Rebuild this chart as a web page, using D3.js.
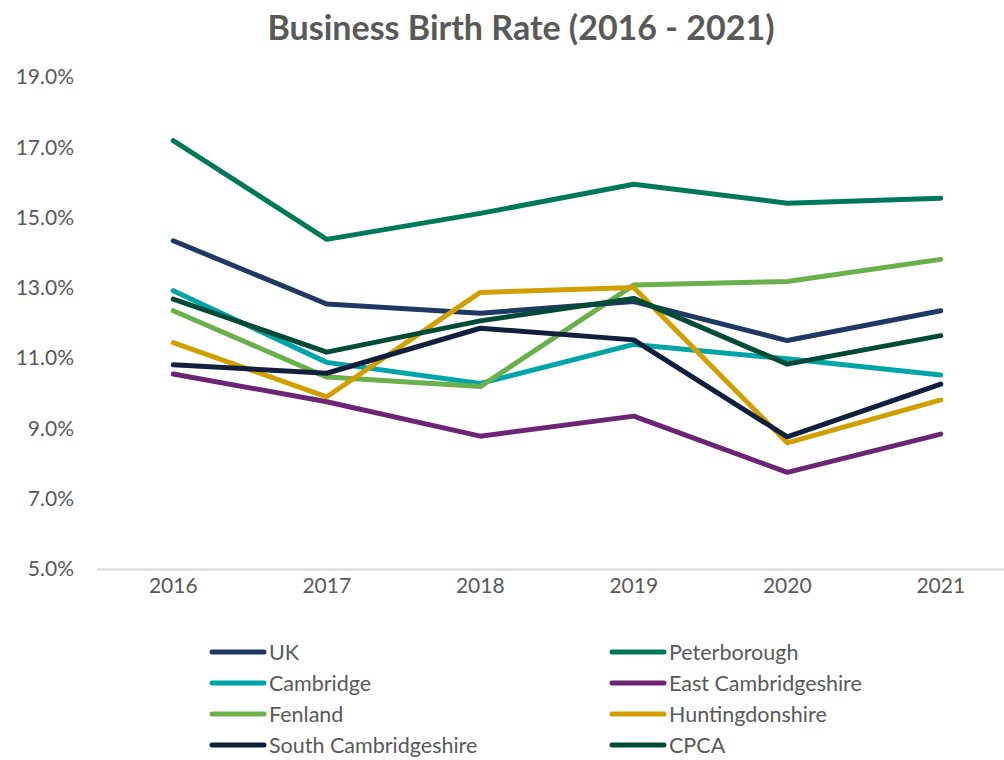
<!DOCTYPE html>
<html>
<head>
<meta charset="utf-8">
<script src="https://cdn.jsdelivr.net/npm/d3@7"></script>
<style>
  html, body { margin: 0; padding: 0; background: #ffffff; }
  svg { display: block; font-family: Lato, "Open Sans", sans-serif; }
</style>
</head>
<body>
<svg id="chart" width="1004" height="760"></svg>
<script>
// Business birth rate (%) by area, 2016–2021
const years = ["2016", "2017", "2018", "2019", "2020", "2021"];
const yTicks = [5, 7, 9, 11, 13, 15, 17, 19];

const uk               = [14.34, 12.54, 12.28, 12.61, 11.50, 12.35];
const peterborough     = [17.19, 14.38, 15.12, 15.95, 15.41, 15.55];
const cambridge        = [12.92, 10.88, 10.28, 11.39, 10.98, 10.52];
const eastCambs        = [10.55,  9.76,  8.78,  9.35,  7.75,  8.84];
const fenland          = [12.35, 10.46, 10.19, 13.08, 13.18, 13.81];
const huntingdonshire  = [11.44,  9.90, 12.87, 13.01,  8.59,  9.81];
const southCambs       = [10.81, 10.57, 11.85, 11.52,  8.76, 10.26];
const cpca             = [12.68, 11.17, 12.06, 12.70, 10.83, 11.64];

const seriesNames  = ["UK", "Peterborough", "Cambridge", "East Cambridgeshire",
                      "Fenland", "Huntingdonshire", "South Cambridgeshire", "CPCA"];
const seriesValues = [uk, peterborough, cambridge, eastCambs,
                      fenland, huntingdonshire, southCambs, cpca];
const seriesColors = ["#1f3864", "#00785a", "#00a5a8", "#6b2574",
                      "#6ab04c", "#d19f00", "#0f1f3c", "#004b37"];

// Drawing order: later series sit on top
const drawOrder = [2, 4, 3, 0, 1, 5, 6, 7];

const svg = d3.select("#chart");
const textColor = "#595959";
const font = "Lato, 'Open Sans', sans-serif";

const x = d3.scaleBand().domain(years).range([96.5, 1017.5]);
const y = d3.scaleLinear().domain([5, 19]).range([569, 77]);

// Title
svg.append("text")
  .attr("x", 521).attr("y", 40)
  .attr("text-anchor", "middle")
  .attr("font-size", 34).attr("font-weight", 700)
  .attr("fill", textColor)
  .text("Business Birth Rate (2016 - 2021)");

// Y axis labels (no axis line)
const yAxis = svg.append("g").attr("transform", "translate(74,0)")
  .call(d3.axisLeft(y).tickValues(yTicks).tickSize(0).tickPadding(0)
    .tickFormat(d => d3.format(".1f")(d) + "%"));
yAxis.select(".domain").remove();
yAxis.selectAll("text").attr("font-size", 21).attr("fill", textColor)
  .attr("font-family", font);

// X axis
const xAxis = svg.append("g").attr("transform", "translate(0,569)")
  .call(d3.axisBottom(x).tickSize(0).tickPadding(0));
xAxis.select(".domain").attr("stroke", "#d9d9d9").attr("stroke-width", 2);
xAxis.selectAll("text").attr("font-size", 21).attr("fill", textColor)
  .attr("dy", "1.15em")
  .attr("font-family", font);

// Lines
const line = d3.line()
  .x((d, i) => x(years[i]) + x.bandwidth() / 2)
  .y(d => y(d));

svg.append("g").selectAll("path")
  .data(drawOrder)
  .join("path")
  .attr("d", k => line(seriesValues[k]))
  .attr("fill", "none")
  .attr("stroke", k => seriesColors[k])
  .attr("stroke-width", 5)
  .attr("stroke-linecap", "round")
  .attr("stroke-linejoin", "round");

// Legend: two columns, four rows
const legend = svg.append("g");
seriesNames.forEach((name, i) => {
  const col = i % 2, row = Math.floor(i / 2);
  const gx = col === 0 ? 212 : 612;
  const gy = 652 + row * 31;
  const g = legend.append("g").attr("transform", `translate(${gx},${gy})`);
  g.append("line")
    .attr("x1", 0).attr("x2", 52).attr("y1", 0).attr("y2", 0)
    .attr("stroke", seriesColors[i]).attr("stroke-width", 5)
    .attr("stroke-linecap", "round");
  g.append("text")
    .attr("x", 57).attr("y", 0).attr("dy", "0.35em")
    .attr("font-size", 21.5).attr("fill", textColor)
    .text(name);
});
</script>
</body>
</html>
